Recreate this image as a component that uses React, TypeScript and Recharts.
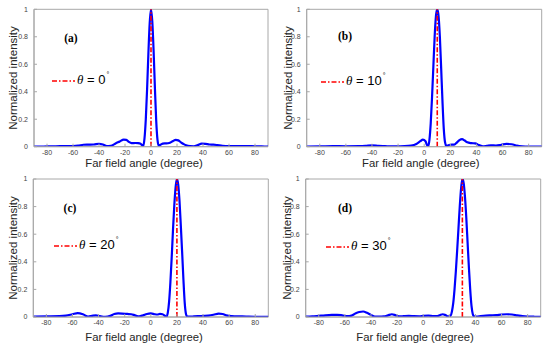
import { LineChart, Line, XAxis, YAxis, ReferenceLine, ReferenceArea, Legend, Label } from 'recharts'

// shared axis ticks
const angleTicks = [-80, -60, -40, -20, 0, 20, 40, 60, 80]
const intensityTicks = [0, 0.2, 0.4, 0.6, 0.8, 1]

// (a) theta = 0
const anglesA = [-90, -85, -80, -75, -70, -65, -60, -56, -52, -48, -44, -40, -37, -34, -31, -27, -24, -21, -19, -17, -15, -12, -10, -8, -7, -6, -5, -4, -3, -2, -1, 0, 1, 2, 3, 4, 5, 6, 7, 9, 11, 13, 15, 17, 19, 21, 23, 25, 27, 30, 33, 36, 39, 42, 45, 48, 51, 55, 60, 65, 70, 75, 80, 85, 90]
const intensityA = [0, 0.001, 0.002, 0.003, 0.004, 0.004, 0.005, 0.008, 0.014, 0.015, 0.016, 0.021, 0.016, 0.004, 0.006, 0.025, 0.038, 0.052, 0.05, 0.035, 0.026, 0.027, 0.026, 0.022, 0.012, 0.004, 0.06, 0.2, 0.42, 0.68, 0.9, 1.0, 0.91, 0.7, 0.43, 0.19, 0.05, 0.006, 0.012, 0.022, 0.024, 0.025, 0.03, 0.042, 0.05, 0.046, 0.032, 0.02, 0.01, 0.004, 0.003, 0.012, 0.022, 0.02, 0.016, 0.015, 0.012, 0.007, 0.005, 0.005, 0.005, 0.004, 0.003, 0.002, 0.001]

// (b) theta = 10
const anglesB = [-90, -80, -70, -60, -50, -45, -40, -35, -30, -25, -20, -15, -10, -6, -3, -1, 1, 2, 3, 4, 5, 6, 7, 8, 9, 10, 11, 12, 13, 14, 15, 16, 17, 19, 21, 23, 25, 27, 29, 31, 33, 36, 39, 42, 45, 48, 51, 55, 59, 63, 67, 71, 75, 80, 85, 90]
const intensityB = [0.001, 0.002, 0.005, 0.003, 0.004, 0.006, 0.01, 0.006, 0.004, 0.002, 0.003, 0.004, 0.008, 0.02, 0.04, 0.052, 0.04, 0.015, 0.002, 0.05, 0.17, 0.36, 0.58, 0.8, 0.95, 1.0, 0.95, 0.8, 0.57, 0.33, 0.13, 0.03, 0.005, 0.012, 0.015, 0.015, 0.03, 0.048, 0.055, 0.045, 0.032, 0.026, 0.024, 0.012, 0.002, 0.006, 0.01, 0.008, 0.014, 0.02, 0.018, 0.008, 0.003, 0.001, 0.001, 0.001]

// (c) theta = 20
const anglesC = [-90, -80, -70, -65, -60, -56, -52, -48, -45, -42, -39, -35, -31, -28, -25, -22, -18, -15, -12, -9, -6, -3, 0, 3, 5, 7, 9, 11, 12, 13, 14, 15, 16, 17, 18, 19, 20, 21, 22, 23, 24, 25, 26, 27, 28, 30, 33, 36, 40, 44, 48, 52, 55, 58, 62, 66, 70, 75, 80, 90]
const intensityC = [0.002, 0.004, 0.006, 0.01, 0.02, 0.028, 0.02, 0.003, 0.008, 0.012, 0.006, 0.001, 0.008, 0.022, 0.026, 0.025, 0.022, 0.02, 0.012, 0.005, 0.012, 0.022, 0.026, 0.02, 0.018, 0.022, 0.02, 0.008, 0.002, 0.03, 0.11, 0.25, 0.43, 0.63, 0.81, 0.94, 1.0, 0.96, 0.84, 0.66, 0.47, 0.27, 0.1, 0.02, 0.003, 0.002, 0.004, 0.006, 0.008, 0.01, 0.016, 0.025, 0.022, 0.012, 0.006, 0.004, 0.004, 0.002, 0.001, 0.001]

// (d) theta = 30
const anglesD = [-90, -85, -80, -75, -70, -66, -62, -58, -55, -52, -49, -46, -43, -40, -37, -34, -30, -27, -24, -21, -18, -15, -11, -7, -3, 0, 4, 8, 11, 13, 15, 17, 19, 21, 22, 23, 24, 25, 26, 27, 28, 29, 30, 31, 32, 33, 34, 35, 36, 37, 38, 39, 41, 44, 48, 52, 56, 60, 64, 68, 72, 76, 80, 85, 90]
const intensityD = [0.002, 0.004, 0.008, 0.012, 0.015, 0.016, 0.012, 0.006, 0.01, 0.025, 0.036, 0.04, 0.03, 0.015, 0.003, 0.002, 0.004, 0.012, 0.02, 0.012, 0.004, 0.006, 0.008, 0.006, 0.005, 0.008, 0.01, 0.006, 0.007, 0.015, 0.02, 0.014, 0.004, 0.01, 0.04, 0.1, 0.2, 0.33, 0.48, 0.64, 0.8, 0.93, 1.0, 0.97, 0.87, 0.72, 0.54, 0.36, 0.2, 0.08, 0.02, 0.004, 0.002, 0.006, 0.01, 0.012, 0.014, 0.018, 0.02, 0.018, 0.012, 0.006, 0.003, 0.002, 0.001]

const panels = [
  { tag: '(a)', theta: 0, angles: anglesA, values: intensityA, left: 0, top: 0, h: 175,
    plot: { l: 34, t: 9.3, r: 268, b: 146.7 }, legend: { x: 52, y: 80 }, tagPos: { x: 71, y: 38 }, xLab: { x: 144, y: 163.3 }, yLabX: 13 },
  { tag: '(b)', theta: 10, angles: anglesB, values: intensityB, left: 275, top: 0, h: 175,
    plot: { l: 31.7, t: 9.3, r: 266.7, b: 146.7 }, legend: { x: 46, y: 80.7 }, tagPos: { x: 70, y: 36 }, xLab: { x: 145.8, y: 163.3 }, yLabX: 12.7 },
  { tag: '(c)', theta: 20, angles: anglesC, values: intensityC, left: 0, top: 175, h: 174,
    plot: { l: 33.3, t: 4, r: 268.3, b: 142 }, legend: { x: 54, y: 70 }, tagPos: { x: 70, y: 33 }, xLab: { x: 144, y: 162.3 }, yLabX: 13.3 },
  { tag: '(d)', theta: 30, angles: anglesD, values: intensityD, left: 275, top: 175, h: 174,
    plot: { l: 30.7, t: 4, r: 265.7, b: 142 }, legend: { x: 51, y: 70.7 }, tagPos: { x: 70, y: 33 }, xLab: { x: 140, y: 162.3 }, yLabX: 11.7 },
]

const W = 275
const sans = 'Liberation Sans, Arial, sans-serif'
const tickStyle = { fontSize: 7, fill: '#444', fontFamily: sans }

function ThetaLegend({ theta }: { theta: number }) {
  return (
    <div style={{ display: 'flex', alignItems: 'center', fontFamily: sans, fontSize: 13, color: '#000', whiteSpace: 'nowrap', lineHeight: '14px' }}>
      <svg width={23} height={6} style={{ display: 'block' }}>
        <line x1={0} y1={3} x2={23} y2={3} stroke="#ff0000" strokeWidth={1.6} strokeDasharray="5 2 1.5 2" />
      </svg>
      <span style={{ marginLeft: 2 }}>
        <i style={{ fontFamily: 'Liberation Serif, serif' }}>θ</i> = {theta}
        <span style={{ fontSize: 7, position: 'relative', top: -7, marginLeft: 1 }}>°</span>
      </span>
    </div>
  )
}

function Panel(p: typeof panels[number]) {
  const data = p.angles.map((a, i) => ({ angle: a, intensity: p.values[i] }))
  const { l, t, r, b } = p.plot
  const yMid = (t + b) / 2
  return (
    <div style={{ position: 'absolute', left: p.left, top: p.top, width: W, height: p.h }}>
      <LineChart width={W} height={p.h} data={data} margin={{ top: t, right: W - r, left: 0, bottom: 0 }}>
        <XAxis dataKey="angle" type="number" domain={[-90, 90]} ticks={angleTicks} allowDataOverflow
          height={p.h - b} axisLine={{ stroke: '#a8a8a8' }} tickLine={{ stroke: '#a8a8a8' }}
          tickSize={-3} tickMargin={6} tick={tickStyle} interval={0}>
          <Label content={() => (
            <text x={p.xLab.x} y={p.xLab.y} textAnchor="middle" dominantBaseline="central"
              fontFamily={sans} fontSize={11.3} fill="#262626">Far field angle (degree)</text>
          )} />
        </XAxis>
        <YAxis type="number" domain={[0, 1]} ticks={intensityTicks} allowDataOverflow width={l}
          axisLine={{ stroke: '#a8a8a8' }} tickLine={{ stroke: '#a8a8a8' }}
          tickSize={-3} tickMargin={9} tick={tickStyle} interval={0}>
          <Label content={() => (
            <text x={p.yLabX} y={yMid} textAnchor="middle" dominantBaseline="central"
              transform={`rotate(-90, ${p.yLabX}, ${yMid})`}
              fontFamily={sans} fontSize={11.5} fill="#262626">Normalized intensity</text>
          )} />
        </YAxis>
        <ReferenceArea x1={-90} x2={90} y1={0} y2={1} fill="none" stroke="#a8a8a8" strokeWidth={1} />
        <Line type="monotone" dataKey="intensity" stroke="#0000ff" strokeWidth={2.2} dot={false} isAnimationActive={false} />
        <ReferenceLine x={p.theta} stroke="#ff0000" strokeWidth={1.6} strokeDasharray="5 2 1.5 2" />
        <Legend verticalAlign="middle" layout="horizontal"
          wrapperStyle={{ position: 'absolute', left: p.legend.x, top: p.legend.y - 7, width: 'auto', height: 14 }}
          content={() => <ThetaLegend theta={p.theta} />} />
        <text x={p.tagPos.x} y={p.tagPos.y} textAnchor="middle" dominantBaseline="central"
          fontFamily="Liberation Serif, serif" fontWeight="bold" fontSize={11.5} fill="#000">{p.tag}</text>
      </LineChart>
    </div>
  )
}

export default function App() {
  return (
    <div style={{ position: 'absolute', left: 0, top: 0, width: 550, height: 349, background: '#fff' }}>
      {panels.map(p => <Panel key={p.tag} {...p} />)}
    </div>
  )
}
